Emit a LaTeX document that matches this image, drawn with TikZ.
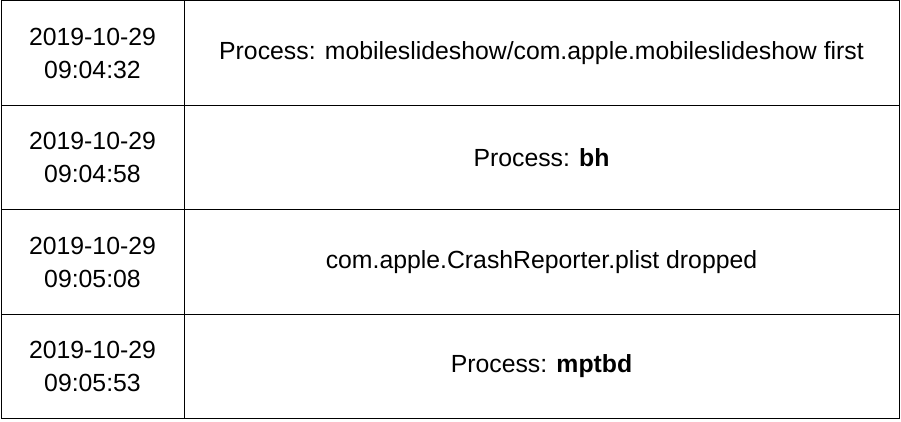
\documentclass[tikz,border=0pt]{standalone}
\usepackage{fontspec}
\setmainfont{Liberation Sans}
\usetikzlibrary{positioning}
\begin{document}
\begin{tikzpicture}[x=1pt,y=-1pt]
\tikzstyle{cell}=[draw, line width=1pt, rectangle, inner sep=0pt, align=center, font=\fontsize{24.8}{33}\selectfont]
\tikzstyle{datecell}=[cell, minimum width=183pt, minimum height=104.5pt]
\tikzstyle{eventcell}=[cell, minimum width=715pt, minimum height=104.5pt]
\useasboundingbox (0,0) rectangle (901,422);

\node[datecell] (D1) at (92.5,53) {2019-10-29\\09:04:32};
\node[datecell] (D2) at (92.5,157.5) {2019-10-29\\09:04:58};
\node[datecell] (D3) at (92.5,262) {2019-10-29\\09:05:08};
\node[datecell] (D4) at (92.5,366.5) {2019-10-29\\09:05:53};
\node[eventcell] (E1) at (541.5,53) {Process: mobileslideshow/com.apple.mobileslideshow first};
\node[eventcell] (E2) at (541.5,157.5) {Process: \textbf{bh}};
\node[eventcell] (E3) at (541.5,262) {com.apple.CrashReporter.plist dropped};
\node[eventcell] (E4) at (541.5,366.5) {Process: \textbf{mptbd}};
\end{tikzpicture}
\end{document}
